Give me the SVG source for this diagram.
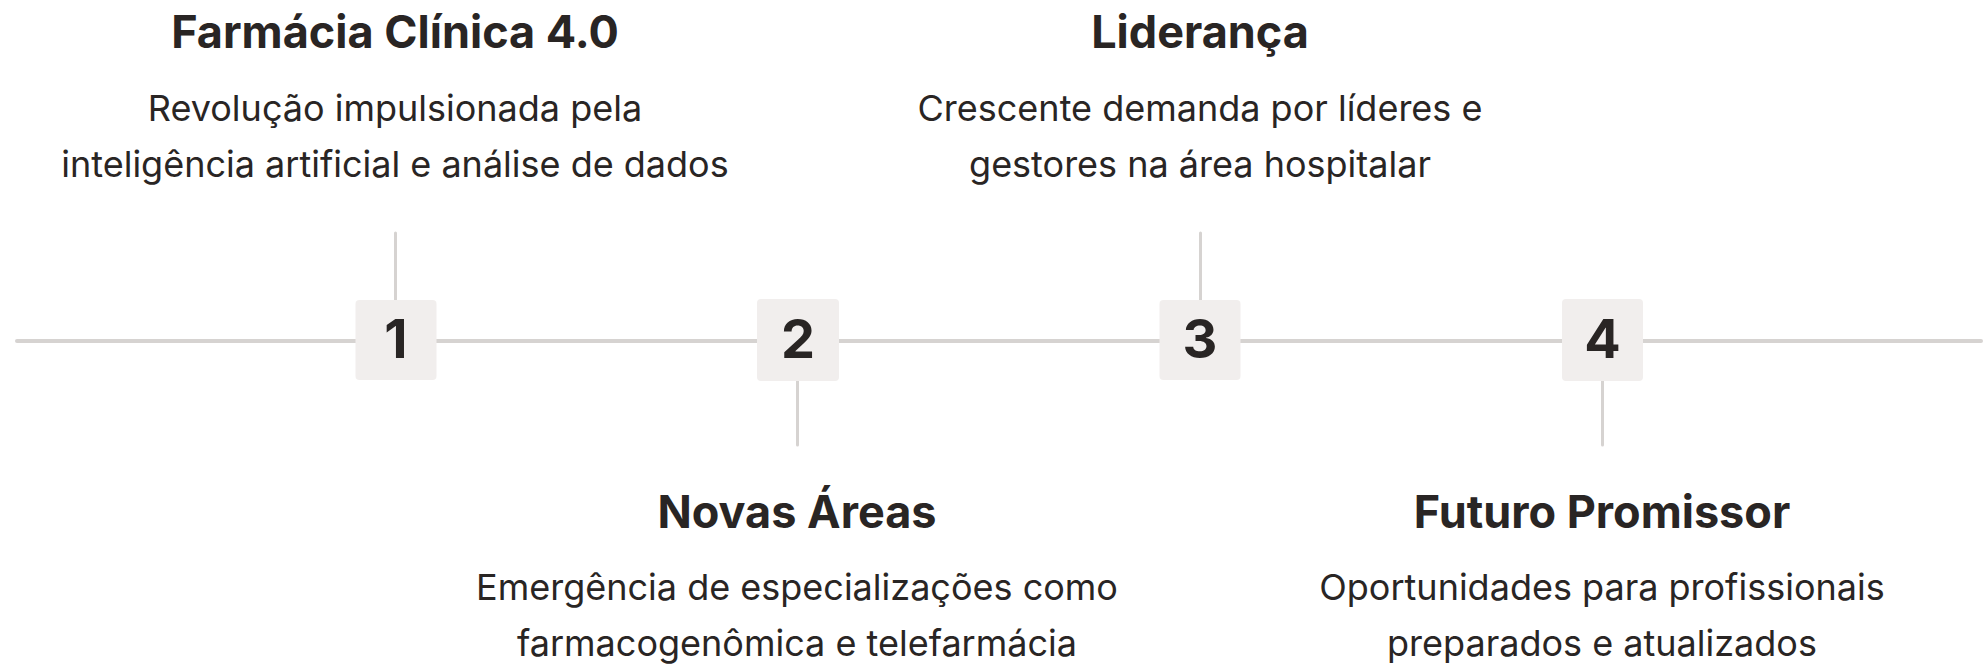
<svg xmlns="http://www.w3.org/2000/svg" width="1983" height="666" viewBox="0 0 1983 666">
<style>
.conn{stroke:#d6d3d1;stroke-linecap:round;fill:none}
.box{fill:#f1eeed}
.num{font-family:Inter,"Liberation Sans",sans-serif;font-weight:700;font-size:54px;fill:#292524;text-anchor:middle}
.title{font-family:Inter,"Liberation Sans",sans-serif;font-weight:700;font-size:45px;fill:#292524;text-anchor:middle}
.body{font-family:Inter,"Liberation Sans",sans-serif;font-weight:400;font-size:36px;fill:#292524;text-anchor:middle}
</style>
<rect width="1983" height="666" fill="#ffffff"/>
<g id="connectors">
<line class="conn" x1="17" y1="341" x2="1981" y2="341" stroke-width="4"/>
<line class="conn" x1="395.5" y1="233" x2="395.5" y2="300" stroke-width="3"/>
<line class="conn" x1="797.5" y1="381" x2="797.5" y2="445" stroke-width="3"/>
<line class="conn" x1="1200.5" y1="233" x2="1200.5" y2="300" stroke-width="3"/>
<line class="conn" x1="1602.5" y1="381" x2="1602.5" y2="445" stroke-width="3"/>
</g>
<g id="node1">
<rect class="box" x="355.5" y="300" width="81" height="80" rx="4"/>
<text class="num" x="396" y="358">1</text>
<text class="title" x="395" y="47.5">Farmácia Clínica 4.0</text>
<text class="body" x="395" y="121">Revolução impulsionada pela</text>
<text class="body" x="395" y="177">inteligência artificial e análise de dados</text>
</g>
<g id="node2">
<rect class="box" x="757" y="299" width="82" height="82" rx="4"/>
<text class="num" x="798" y="358">2</text>
<text class="title" x="797" y="528">Novas Áreas</text>
<text class="body" x="797" y="600">Emergência de especializações como</text>
<text class="body" x="797" y="656">farmacogenômica e telefarmácia</text>
</g>
<g id="node3">
<rect class="box" x="1159.5" y="300" width="81" height="80" rx="4"/>
<text class="num" x="1200" y="358">3</text>
<text class="title" x="1200" y="47.5">Liderança</text>
<text class="body" x="1200" y="121">Crescente demanda por líderes e</text>
<text class="body" x="1200" y="177">gestores na área hospitalar</text>
</g>
<g id="node4">
<rect class="box" x="1562" y="299" width="81" height="82" rx="4"/>
<text class="num" x="1602.5" y="358">4</text>
<text class="title" x="1602" y="528">Futuro Promissor</text>
<text class="body" x="1602" y="600">Oportunidades para profissionais</text>
<text class="body" x="1602" y="656">preparados e atualizados</text>
</g>
</svg>
